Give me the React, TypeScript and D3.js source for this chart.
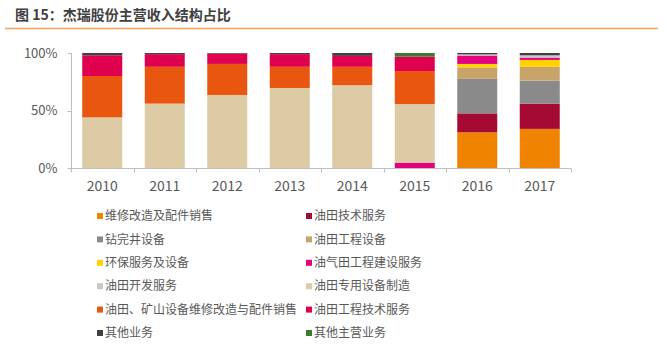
import { useRef, useEffect } from "react"
import * as d3 from "d3"

const years = ["2010", "2011", "2012", "2013", "2014", "2015", "2016", "2017"]

const seriesNames = [
  "维修改造及配件销售",
  "油田技术服务",
  "钻完井设备",
  "油田工程设备",
  "环保服务及设备",
  "油气田工程建设服务",
  "油田开发服务",
  "油田专用设备制造",
  "油田、矿山设备维修改造与配件销售",
  "油田工程技术服务",
  "其他业务",
  "其他主营业务",
]

const seriesColors = [
  "#F08300",
  "#A50A35",
  "#8A8A8A",
  "#C9A46A",
  "#FFD200",
  "#E4007F",
  "#C8C8C8",
  "#DCCBA5",
  "#E8560F",
  "#DF0050",
  "#404040",
  "#3E7A2E",
]

// share of revenue, %
const repairSales = [0, 0, 0, 0, 0, 0, 31, 34]
const oilfieldTech = [0, 0, 0, 0, 0, 0, 16.5, 22]
const drillingEquip = [0, 0, 0, 0, 0, 0, 30, 20]
const engineeringEquip = [0, 0, 0, 0, 0, 0, 10, 12]
const environmental = [0, 0, 0, 0, 0, 0, 3, 6]
const constructionSvc = [0, 0, 0, 0, 0, 4.6, 7.3, 2]
const developmentSvc = [0, 0, 0, 0, 0, 0, 1, 2]
const specialEquip = [44, 56, 63.5, 69.6, 72, 51, 0, 0]
const mineRepair = [36, 32, 27, 18.4, 16, 28.7, 0, 0]
const engineeringTech = [18, 11, 9, 11, 9.5, 12.5, 0, 0]
const otherBiz = [2, 1, 0.5, 1, 2.5, 0, 1.2, 2]
const otherMain = [0, 0, 0, 0, 0, 3.2, 0, 0]

const seriesValues = [
  repairSales,
  oilfieldTech,
  drillingEquip,
  engineeringEquip,
  environmental,
  constructionSvc,
  developmentSvc,
  specialEquip,
  mineRepair,
  engineeringTech,
  otherBiz,
  otherMain,
]

const yTicks = [0, 50, 100]

const App = () => {
  const svgRef = useRef<SVGSVGElement>(null)

  useEffect(() => {
    const svg = d3.select(svgRef.current)
    svg.selectAll("*").remove()

    const fontFamily = "'Noto Sans CJK SC', 'Noto Sans', sans-serif"
    const textColor = "#595959"
    const axisColor = "#BFBFBF"

    // Title and rule
    svg
      .append("text")
      .attr("x", 15)
      .attr("y", 20)
      .style("font-family", fontFamily)
      .style("font-size", "14px")
      .style("font-weight", "bold")
      .style("fill", "#404040")
      .text("图 15：杰瑞股份主营收入结构占比")
    svg
      .append("line")
      .attr("x1", 5)
      .attr("x2", 658)
      .attr("y1", 28.5)
      .attr("y2", 28.5)
      .attr("stroke", "#F4A460")
      .attr("stroke-width", 1.5)

    // Scales
    const x = d3.scaleBand().domain(years).range([71, 571]).paddingInner(0.36).paddingOuter(0.18)
    const y = d3.scaleLinear().domain([0, 100]).range([168, 53])

    // Stack
    const rows = years.map((yr, i) => {
      const row: Record<string, number | string> = { year: yr }
      seriesNames.forEach((name, s) => (row[name] = seriesValues[s][i]))
      return row
    })
    const stacked = d3.stack<any>().keys(seriesNames)(rows)

    const barG = svg.append("g")
    stacked.forEach((layer, s) => {
      barG
        .append("g")
        .attr("fill", seriesColors[s])
        .selectAll("rect")
        .data(layer.filter((d) => d[1] - d[0] > 0))
        .enter()
        .append("rect")
        .attr("x", (d) => x(d.data.year as string)!)
        .attr("width", x.bandwidth())
        .attr("y", (d) => y(d[1]))
        .attr("height", (d) => y(d[0]) - y(d[1]))
    })

    // Y axis
    const yAxis = svg.append("g").attr("transform", "translate(71.5,0)")
    yAxis
      .append("line")
      .attr("x1", 0)
      .attr("x2", 0)
      .attr("y1", y(100))
      .attr("y2", y(0))
      .attr("stroke", axisColor)
    yTicks.forEach((t) => {
      yAxis
        .append("line")
        .attr("x1", -4)
        .attr("x2", 0)
        .attr("y1", Math.round(y(t)) + 0.5)
        .attr("y2", Math.round(y(t)) + 0.5)
        .attr("stroke", axisColor)
      yAxis
        .append("text")
        .attr("x", -14)
        .attr("y", y(t))
        .attr("dy", "0.35em")
        .attr("text-anchor", "end")
        .style("font-family", fontFamily)
        .style("font-size", "13px")
        .style("fill", textColor)
        .text(`${t}%`)
    })

    // X axis
    const xAxis = svg.append("g").attr("transform", "translate(0,168.5)")
    xAxis.append("line").attr("x1", 71).attr("x2", 571).attr("stroke", axisColor)
    const boundaries = years.map((yr) => x(yr)! - (x.step() - x.bandwidth()) / 2).concat([571])
    boundaries.forEach((bx) => {
      xAxis
        .append("line")
        .attr("x1", Math.round(bx) + 0.5)
        .attr("x2", Math.round(bx) + 0.5)
        .attr("y1", 0)
        .attr("y2", 4)
        .attr("stroke", axisColor)
    })
    years.forEach((yr) => {
      xAxis
        .append("text")
        .attr("x", x(yr)! + x.bandwidth() / 2)
        .attr("y", 22)
        .attr("text-anchor", "middle")
        .style("font-family", fontFamily)
        .style("font-size", "14px")
        .style("fill", textColor)
        .text(yr)
    })

    // Legend
    const legend = svg.append("g")
    seriesNames.forEach((name, i) => {
      const col = i % 2
      const row = Math.floor(i / 2)
      const lx = col === 0 ? 97 : 306
      const ly = 216 + row * 23.4
      const item = legend.append("g").attr("transform", `translate(${lx},${ly})`)
      item.append("rect").attr("x", 0).attr("y", -3).attr("width", 6).attr("height", 6).attr("fill", seriesColors[i])
      item
        .append("text")
        .attr("x", 8)
        .attr("y", 0)
        .attr("dy", "0.35em")
        .style("font-family", fontFamily)
        .style("font-size", "12px")
        .style("fill", textColor)
        .text(name)
    })
  }, [])

  return (
    <svg
      ref={svgRef}
      width={667}
      height={362}
      style={{ position: "absolute", left: 0, top: 0, background: "#fff", display: "block" }}
    ></svg>
  )
}

export default App
